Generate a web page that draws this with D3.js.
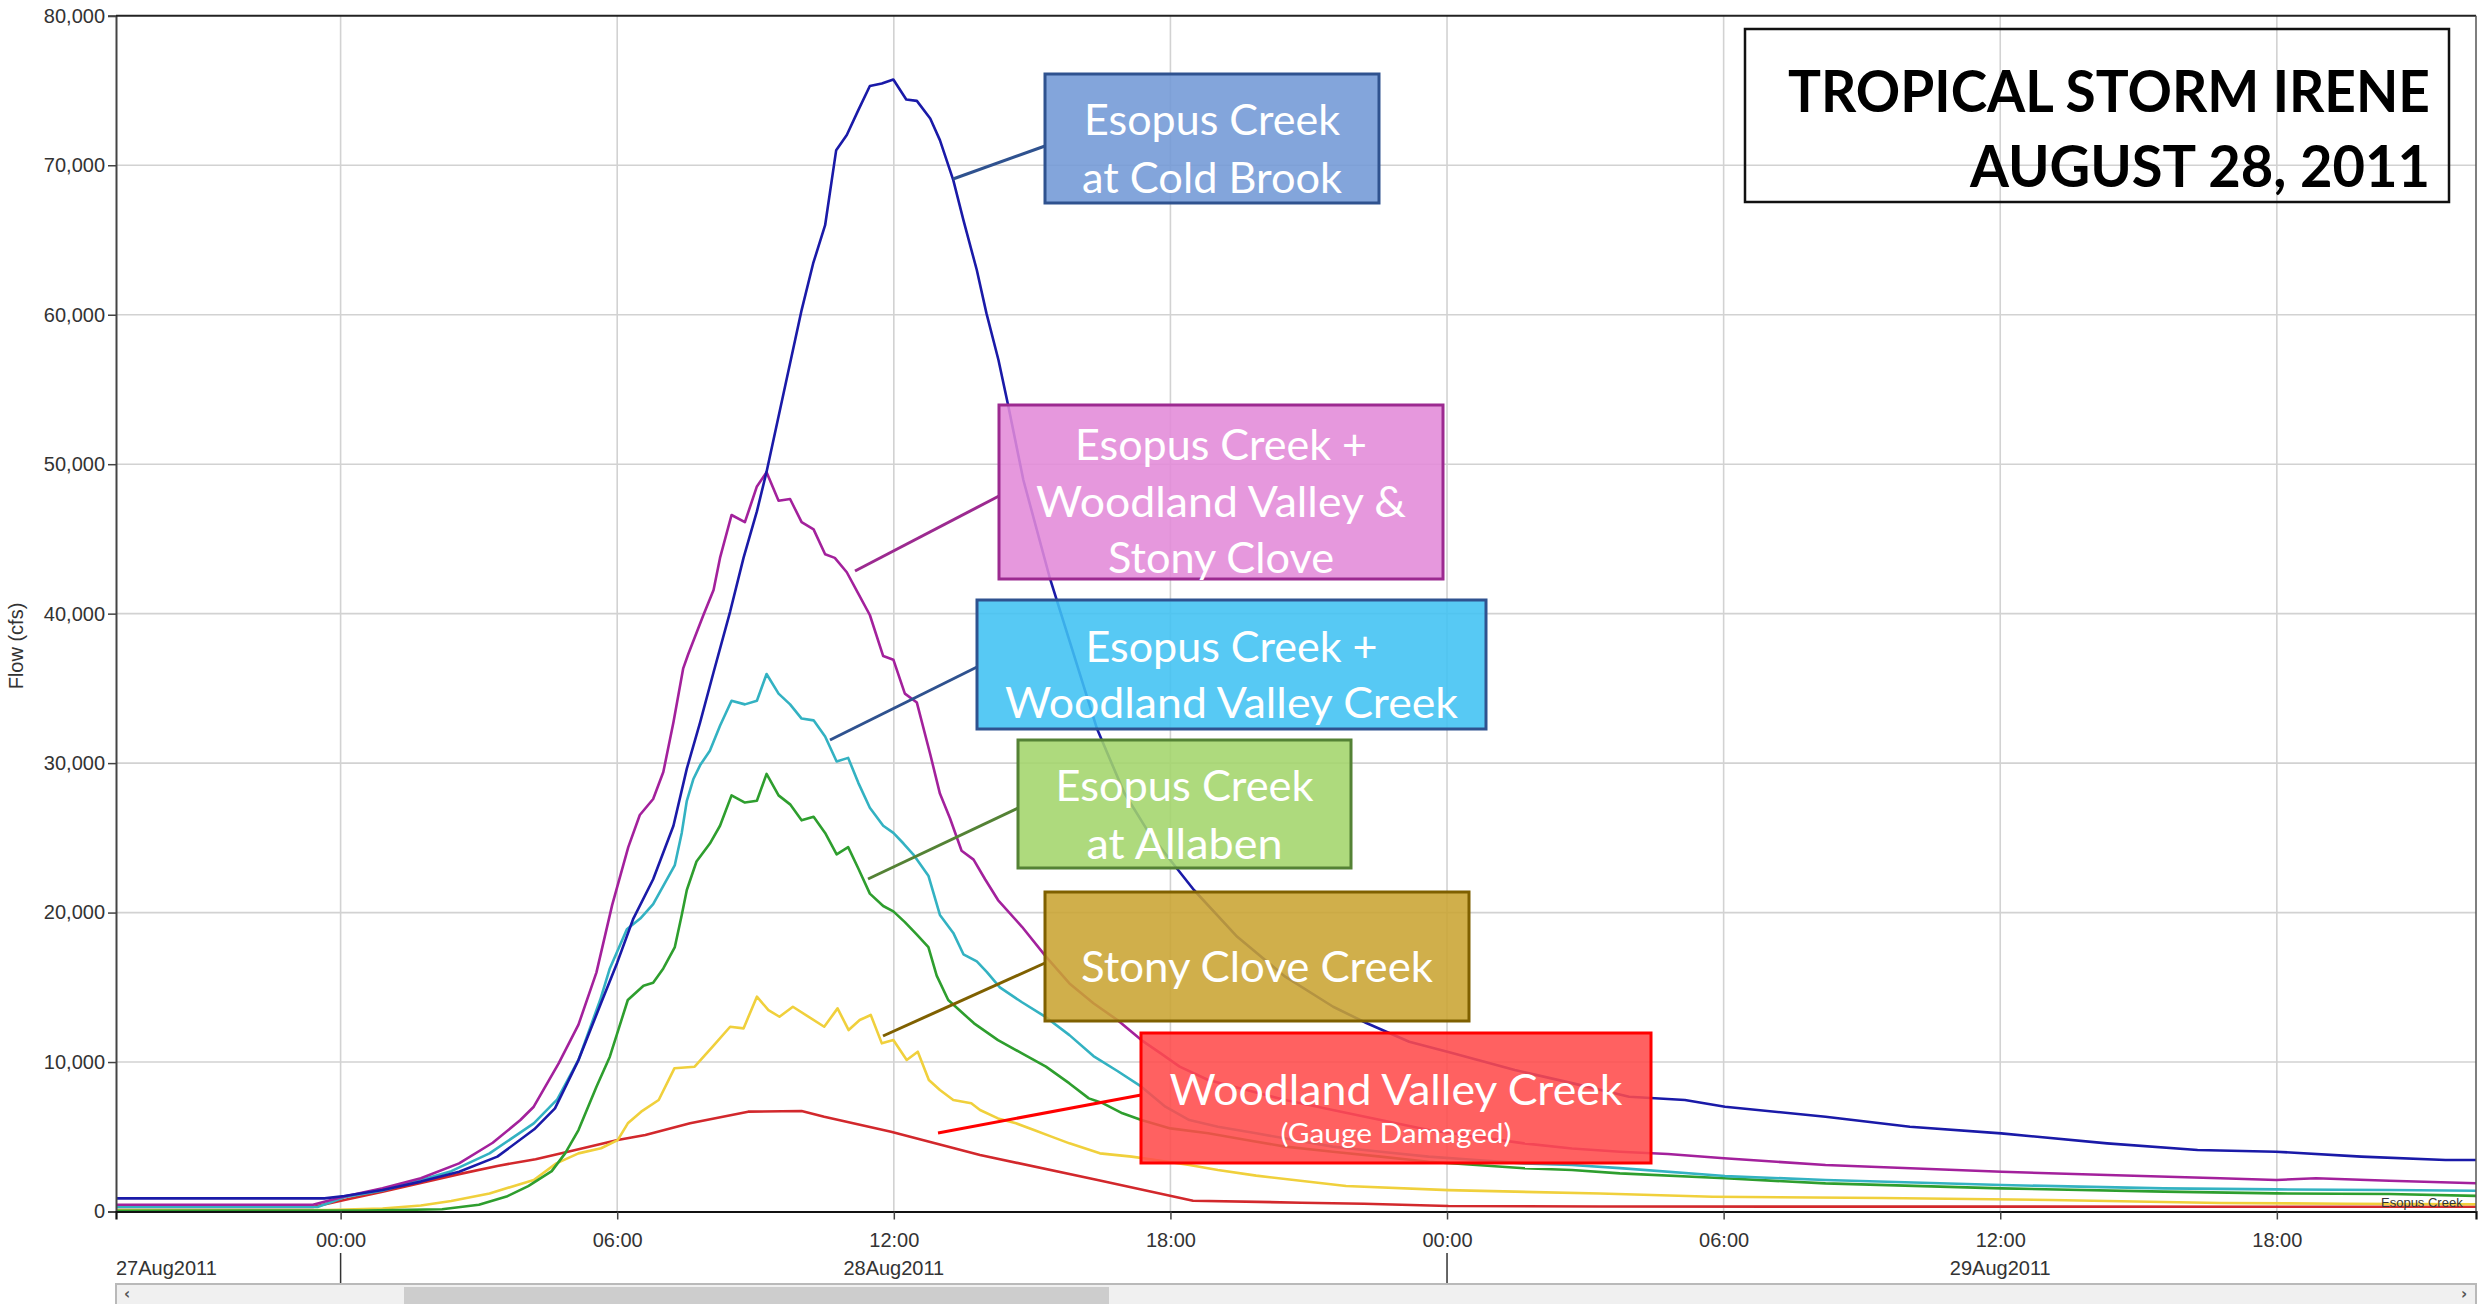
<!DOCTYPE html>
<html><head><meta charset="utf-8">
<script src="https://cdn.jsdelivr.net/npm/d3@7"></script>
<style>body{margin:0;background:#fff;overflow:hidden} svg{display:block}</style>
</head><body>
<svg id="c" width="2484" height="1304"></svg>
<script>
// ---------- DATA (hours relative to 28Aug2011 00:00, flow in cfs) ----------
const seriesNames = ["Esopus Creek at Cold Brook","Esopus Creek + Woodland Valley & Stony Clove","Esopus Creek + Woodland Valley Creek","Esopus Creek at Allaben","Stony Clove Creek","Woodland Valley Creek"];

const coldBrookHours = [-4.9,-0.35,0.08,0.91,1.74,2.57,3.4,4.2,4.65,5.16,5.65,6.0,6.35,6.78,7.22,7.51,7.80,8.09,8.45,8.74,9.03,9.24,10.0,10.25,10.51,10.75,10.98,11.23,11.48,11.74,11.99,12.27,12.50,12.79,13.0,13.29,13.51,13.80,14.01,14.27,14.48,14.81,15.39,15.54,16.41,17.0,17.5,18.0,18.51,19.45,20.49,21.53,22.25,23.18,24.11,25.47,26.71,27.95,29.16,30.03,32.21,34.04,36.02,38.32,40.28,41.98,43.83,45.66,46.4];
const coldBrookFlow  = [880,880,1040,1440,2000,2660,3670,5500,6900,10130,13950,16650,19600,22230,25810,29630,32740,36080,40140,43730,46840,49500,60310,63430,65990,71010,72020,73690,75300,75470,75740,74400,74310,73130,71680,69010,66330,62990,60090,56970,53950,48940,42320,40860,32280,28000,25500,23500,21510,18380,15710,13700,12610,11360,10600,9470,8590,7680,7460,7010,6340,5670,5230,4560,4110,4000,3670,3450,3450];

const wvscHours = [-4.9,-0.6,0.08,0.91,1.74,2.57,3.3,3.9,4.19,4.73,5.16,5.55,5.89,6.24,6.49,6.78,7.0,7.22,7.43,7.54,7.87,8.09,8.23,8.48,8.77,9.03,9.24,9.50,9.75,10.0,10.26,10.51,10.72,10.98,11.23,11.48,11.77,11.99,12.24,12.50,12.79,13.0,13.22,13.47,13.73,13.98,14.26,14.78,15.30,15.81,16.33,16.85,17.37,17.79,18.2,18.82,19.65,20.49,21.52,22.56,23.6,24.64,25.67,26.71,27.75,28.79,30.01,32.21,36.03,38.33,40.77,41.99,42.85,44.44,46.4];
const wvscFlow  = [450,450,1000,1550,2220,3220,4600,6120,7010,9910,12500,16000,20500,24380,26530,27600,29400,32740,36320,37280,39910,41580,43730,46600,46120,48510,49460,47550,47670,46120,45640,43970,43730,42770,41340,39910,37160,36920,34650,34050,30590,27960,26290,24140,23540,22230,20840,19050,17050,15260,13930,12810,11470,10580,9690,8800,8130,7460,6790,6120,5450,5000,4560,4220,4000,3850,3560,3110,2660,2440,2220,2110,2220,2060,1880];

const wvHours = [-4.9,-0.5,0.08,0.91,1.74,2.4,3.23,4.19,4.7,5.16,5.63,5.84,6.21,6.50,6.78,7.25,7.40,7.51,7.65,7.80,8.01,8.23,8.48,8.77,9.03,9.24,9.50,9.75,10.0,10.26,10.51,10.76,11.01,11.23,11.48,11.77,11.99,12.21,12.42,12.75,13.0,13.29,13.51,13.8,14.02,14.3,14.78,15.30,15.81,16.33,16.85,17.37,17.89,18.41,19.03,19.86,20.69,21.52,22.56,23.6,24.64,25.67,26.71,27.75,30.03,32.21,36.03,39.55,41.99,44.44,46.4];
const wvFlow  = [300,300,950,1400,2110,2700,3890,5900,7500,10140,14150,16260,18880,19600,20560,23180,25330,27480,28920,29870,30830,32500,34170,33930,34170,35960,34650,33930,32980,32860,31780,30110,30350,28680,27010,25810,25330,24620,23900,22470,19840,18640,17210,16730,16020,15000,14000,13000,11800,10400,9400,8350,7010,6120,5670,5230,4780,4340,4000,3670,3450,3220,3110,2900,2370,2110,1770,1550,1480,1440,1390];

const allabenHours = [-4.9,0.5,2.2,3.0,3.6,4.07,4.58,4.87,5.16,5.55,5.84,6.23,6.57,6.78,7.0,7.25,7.40,7.51,7.72,8.01,8.23,8.48,8.77,9.03,9.24,9.50,9.75,10.0,10.26,10.51,10.76,11.01,11.23,11.48,11.77,11.99,12.24,12.50,12.75,12.93,13.18,13.74,14.26,14.78,15.30,15.81,16.23,16.54,16.96,17.37,18.0,18.82,19.65,20.49,21.52,22.56,23.6,24.64,25.67,26.71,27.75,30.03,32.21,36.03,39.55,41.99,44.44,46.4];
const allabenFlow  = [50,60,150,450,1000,1700,2700,3890,5450,8350,10360,14150,15100,15300,16260,17690,19840,21510,23420,24620,25810,27840,27360,27480,29280,27840,27240,26170,26410,25330,23900,24380,22950,21270,20440,20080,19360,18530,17690,15780,14150,12590,11470,10580,9690,8570,7570,7240,6570,6120,5560,5230,4780,4340,4000,3670,3330,3110,2890,2780,2550,2220,1880,1550,1330,1210,1170,1040];

const stonyHours = [-4.9,-0.3,0.91,1.74,2.4,3.23,4.19,4.68,5.16,5.65,6.01,6.23,6.52,6.9,7.24,7.68,8.07,8.45,8.74,9.03,9.28,9.52,9.81,10.49,10.78,11.02,11.26,11.5,11.74,11.99,12.28,12.52,12.76,13.0,13.29,13.68,13.87,14.26,14.65,15.04,15.42,15.81,16.47,17.16,17.68,18.41,19.03,19.86,21.81,24.03,27.32,29.76,33.44,37.1,40.77,43.5,46.4];
const stonyFlow  = [100,100,200,400,700,1210,2110,3220,3890,4230,4780,5900,6680,7460,9580,9690,11030,12360,12250,14370,13480,13030,13700,12360,13590,12140,12810,13150,11250,11470,10140,10690,8800,8130,7460,7240,6790,6230,5900,5450,5010,4560,3890,3670,3450,3110,2780,2400,1710,1430,1200,990,900,770,570,520,480];

const woodlandHours = [-4.9,-0.6,0.08,0.91,1.74,2.57,3.4,4.23,5.07,6.01,6.61,7.58,8.84,10.0,10.49,11.94,13.87,16.42,18.49,20.84,22.2,24.03,27.3,46.4];
const woodlandFlow  = [300,300,770,1330,1900,2500,3050,3500,4100,4780,5120,5900,6680,6720,6340,5340,3780,2110,720,590,520,370,330,320];

const yTicks = [0,10000,20000,30000,40000,50000,60000,70000,80000];
const dateLabels = ["27Aug2011","28Aug2011","29Aug2011"];
const titleLines = ["TROPICAL STORM IRENE","AUGUST 28, 2011"];

// ---------- LAYOUT ----------
const svg = d3.select("#c");
const L = 116, R = 2476, T = 15.8, B = 1211.5;
const t0 = new Date(2011, 7, 28, 0, 0, 0);
const toDate = h => new Date(t0.getTime() + h * 3600e3);
const x = d3.scaleTime().domain([toDate(-4.872), toDate(46.32)]).range([L, R]);
const y = d3.scaleLinear().domain([0, 80000]).range([B, T]);

svg.append("defs").append("clipPath").attr("id","plot")
  .append("rect").attr("x",L).attr("y",T).attr("width",R-L).attr("height",B-T);

const sixH = d3.timeHour.every(6).range(toDate(-4.872), toDate(46.32));

// grid
const grid = svg.append("g");
grid.selectAll("line.v").data(sixH).join("line")
  .attr("x1",d=>x(d)).attr("x2",d=>x(d)).attr("y1",T).attr("y2",B)
  .attr("stroke","#d2d2d2").attr("stroke-width",1.6);
grid.selectAll("line.h").data(yTicks.filter(v=>v>0 && v<80000)).join("line")
  .attr("x1",L).attr("x2",R).attr("y1",d=>y(d)).attr("y2",d=>y(d))
  .attr("stroke","#d2d2d2").attr("stroke-width",1.6);

// series
const series = [
  {h: woodlandHours, v: woodlandFlow, c: "#d2282c"},
  {h: stonyHours, v: stonyFlow, c: "#f0d03c"},
  {h: allabenHours, v: allabenFlow, c: "#2e9e2e"},
  {h: wvHours, v: wvFlow, c: "#33b2c2"},
  {h: wvscHours, v: wvscFlow, c: "#a3219c"},
  {h: coldBrookHours, v: coldBrookFlow, c: "#1a1aa8"}
];
const line = d3.line().x(d=>x(toDate(d[0]))).y(d=>y(d[1]));
const lg = svg.append("g").attr("clip-path","url(#plot)");
series.forEach(s => {
  lg.append("path").datum(d3.zip(s.h, s.v))
    .attr("d", line).attr("fill","none").attr("stroke", s.c)
    .attr("stroke-width", 2.6).attr("stroke-linejoin","round");
});
lg.append("text").attr("x",2381).attr("y",1207).text("Esopus Creek")
  .attr("font-family","Liberation Sans, Arial").attr("font-size",13).attr("fill","#333");

// axes
const yAxis = d3.axisLeft(y).tickValues(yTicks).tickSize(8).tickPadding(3).tickFormat(d3.format(","));
const gy = svg.append("g").attr("transform",`translate(${L},0)`).call(yAxis);
gy.select(".domain").attr("stroke","#444").attr("stroke-width",2);
gy.selectAll(".tick line").attr("stroke","#444").attr("stroke-width",1.5);
gy.selectAll("text").attr("font-family","Liberation Sans, Arial").attr("font-size",20).attr("fill","#333");

const xAxis = d3.axisBottom(x).tickValues(sixH).tickSize(8).tickPadding(13).tickFormat(d3.timeFormat("%H:%M"));
const gx = svg.append("g").attr("transform",`translate(0,${B})`).call(xAxis);
gx.select(".domain").attr("stroke","#111").attr("stroke-width",2.2);
gx.selectAll(".tick line").attr("stroke","#444").attr("stroke-width",1.5);
gx.selectAll("text").attr("font-family","Liberation Sans, Arial").attr("font-size",20).attr("fill","#333");

// frame top/right
svg.append("line").attr("x1",L).attr("x2",R).attr("y1",T).attr("y2",T).attr("stroke","#222").attr("stroke-width",2);
svg.append("line").attr("x1",R).attr("x2",R).attr("y1",T).attr("y2",B).attr("stroke","#555").attr("stroke-width",1.5);

// day separators and date labels
const midnights = sixH.filter(d => d.getHours() === 0);
svg.selectAll("line.day").data(midnights).join("line")
  .attr("x1",d=>x(d)).attr("x2",d=>x(d)).attr("y1",1253).attr("y2",1283)
  .attr("stroke","#333").attr("stroke-width",1.5);
const noonDates = [toDate(12), toDate(36)];
svg.append("text").attr("x",L).attr("y",1275).text(dateLabels[0])
  .attr("font-family","Liberation Sans, Arial").attr("font-size",20).attr("fill","#333");
svg.selectAll("text.date").data(noonDates).join("text")
  .attr("x",d=>x(d)).attr("y",1275).attr("text-anchor","middle")
  .text((d,i)=>dateLabels[i+1])
  .attr("font-family","Liberation Sans, Arial").attr("font-size",20).attr("fill","#333");

// y label
svg.append("text").attr("transform","translate(23,646) rotate(-90)").attr("text-anchor","middle")
  .text("Flow (cfs)").attr("font-family","Liberation Sans, Arial").attr("font-size",20).attr("fill","#333");

// scrollbar
svg.append("rect").attr("x",L).attr("y",1284).attr("width",R-L).attr("height",24)
  .attr("fill","#f0f0f0").attr("stroke","#b9b9b9").attr("stroke-width",2);
svg.append("rect").attr("x",404).attr("y",1287).attr("width",705).attr("height",17).attr("fill","#cdcdcd");
svg.append("text").attr("x",124).attr("y",1299).text("‹").attr("font-family","DejaVu Sans").attr("font-size",15).attr("font-weight",700).attr("fill","#555");
svg.append("text").attr("x",2461).attr("y",1299).text("›").attr("font-family","DejaVu Sans").attr("font-size",15).attr("font-weight",700).attr("fill","#555");

// annotations
const ann = [
  {box:[1045,74,1379,203], fill:"#7298d6", stroke:"#2f528f", lead:[953,179,1045,146],
   lines:[["Esopus Creek",135,256,42],["at Cold Brook",193,260,42]]},
  {box:[999,405,1443,579], fill:"#e38ad8", stroke:"#9c2a90", lead:[855,571,999,496],
   lines:[["Esopus Creek +",460,292,42],["Woodland Valley &",517,370,42],["Stony Clove",573,226,42]]},
  {box:[977,600,1486,729], fill:"#40c2f2", stroke:"#2f528f", lead:[830,740,977,667],
   lines:[["Esopus Creek +",662,292,42],["Woodland Valley Creek",718,453,42]]},
  {box:[1018,740,1351,868], fill:"#a3d56b", stroke:"#548235", lead:[868,879,1018,808],
   lines:[["Esopus Creek",801,258,42],["at Allaben",859,196,42]]},
  {box:[1045,892,1469,1021], fill:"#c9a432", stroke:"#7f6000", lead:[883,1036,1045,963],
   lines:[["Stony Clove Creek",982,352,42]]},
  {box:[1141,1033,1651,1163], fill:"#ff4b4b", stroke:"#ff0000", lead:[938,1133,1141,1095],
   lines:[["Woodland Valley Creek",1105,453,42],["(Gauge Damaged)",1143,231,27]]}
];
const ag = svg.append("g");
ann.forEach(a => {
  ag.append("line").attr("x1",a.lead[0]).attr("y1",a.lead[1]).attr("x2",a.lead[2]).attr("y2",a.lead[3])
    .attr("stroke",a.stroke).attr("stroke-width",3);
});
ann.forEach(a => {
  const [x0,y0,x1,y1] = a.box;
  ag.append("rect").attr("x",x0).attr("y",y0).attr("width",x1-x0).attr("height",y1-y0)
    .attr("fill",a.fill).attr("fill-opacity",0.88).attr("stroke",a.stroke).attr("stroke-width",3);
  a.lines.forEach(([t,by,w,fs]) => {
    ag.append("text").attr("x",(x0+x1)/2).attr("y",by).attr("text-anchor","middle")
      .attr("font-family","Lato, Open Sans, sans-serif").attr("font-size",fs).attr("fill","#fff")
      .attr("textLength",w).attr("lengthAdjust","spacingAndGlyphs").text(t);
  });
});

// title box
svg.append("rect").attr("x",1745).attr("y",29).attr("width",704).attr("height",173)
  .attr("fill","none").attr("stroke","#111").attr("stroke-width",2.5);
svg.append("text").attr("x",2430).attr("y",112).attr("text-anchor","end")
  .attr("font-family","Lato, sans-serif").attr("font-weight",700).attr("font-size",58)
  .attr("textLength",642).attr("lengthAdjust","spacingAndGlyphs").attr("fill","#000").text(titleLines[0]);
svg.append("text").attr("x",2430).attr("y",187).attr("text-anchor","end")
  .attr("font-family","Lato, sans-serif").attr("font-weight",700).attr("font-size",58)
  .attr("textLength",460).attr("lengthAdjust","spacingAndGlyphs").attr("fill","#000").text(titleLines[1]);
</script>
</body></html>
